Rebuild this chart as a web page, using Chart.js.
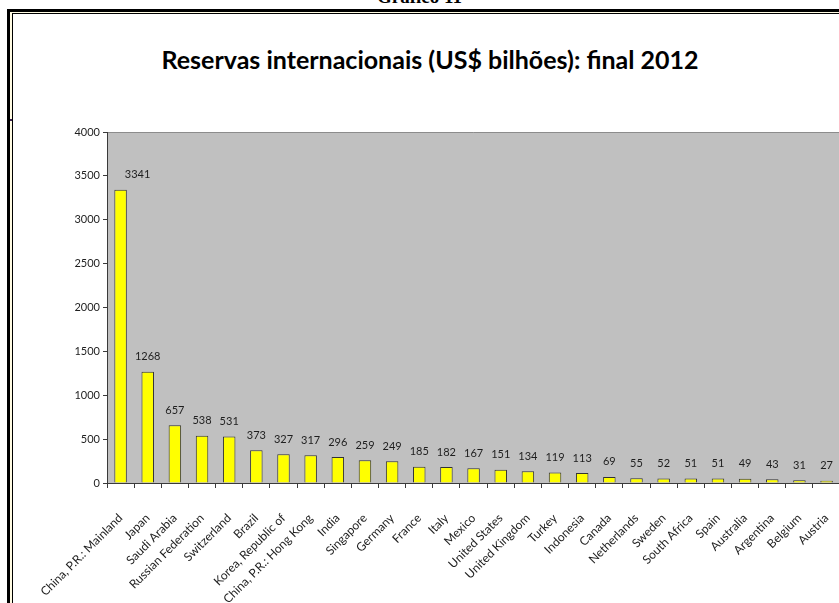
<!DOCTYPE html>
<html>
<head>
<meta charset="utf-8">
<script src="https://cdn.jsdelivr.net/npm/chart.js@4.4.0/dist/chart.umd.min.js"></script>
<style>
  html, body { margin: 0; padding: 0; width: 839px; height: 603px; overflow: hidden; background: #fff; }
  #caption { position: absolute; left: 0; width: 839px; top: -14px; text-align: center;
             font: bold 19px "Liberation Serif", serif; line-height: 22px; color: #000; }
  #frameOuter { position: absolute; left: 7px; top: 9px; width: 900px; height: 700px;
                border-left: 3px solid #000; border-top: 3px solid #000; background: #fffbe3; }
  #frameInner { position: absolute; left: 12px; top: 13px; width: 900px; height: 700px;
                border-left: 1px solid #000; border-top: 1px solid #000; background: #fff; }
  #mark { position: absolute; left: 10px; top: 119px; width: 2px; height: 2px; background: #3a2050; }
  #title { position: absolute; left: 130px; width: 600px; top: 39px; text-align: center;
           font: bold 25px Lato, sans-serif; line-height: 40px; color: #000; white-space: nowrap; }
  #wrap { position: absolute; left: 0; top: 0; width: 860px; height: 603px; }
  #chart { width: 860px; height: 603px; display: block; }
</style>
</head>
<body>
<div id="caption">Gráfico 11</div>
<div id="frameOuter"></div>
<div id="frameInner"></div>
<div id="mark"></div>
<div id="title">Reservas internacionais (US$ bilhões): final 2012</div>
<div id="wrap"><canvas id="chart" width="860" height="603"></canvas></div>
<script>
// Reservas internacionais, final de 2012 (US$ bilhões)
const countries = [
  "China, P.R.: Mainland", "Japan", "Saudi Arabia", "Russian Federation", "Switzerland",
  "Brazil", "Korea, Republic of", "China, P.R.: Hong Kong", "India", "Singapore",
  "Germany", "France", "Italy", "Mexico", "United States", "United Kingdom", "Turkey",
  "Indonesia", "Canada", "Netherlands", "Sweden", "South Africa", "Spain", "Australia",
  "Argentina", "Belgium", "Austria"
];
const reserves = [
  3341, 1268, 657, 538, 531, 373, 327, 317, 296, 259, 249, 185, 182, 167, 151, 134, 119,
  113, 69, 55, 52, 51, 51, 49, 43, 31, 27
];
const yTicks = [0, 500, 1000, 1500, 2000, 2500, 3000, 3500, 4000];

const LABEL_FONT = '11px Lato, sans-serif';
const AXIS_COLOR = '#3a3a3a';

// gray plot area with a light top edge
const plotBackground = {
  id: 'plotBackground',
  beforeDraw(chart) {
    const { ctx, chartArea: a } = chart;
    ctx.save();
    ctx.fillStyle = '#c0c0c0';
    ctx.fillRect(a.left, a.top, a.right - a.left, a.bottom - a.top);
    ctx.strokeStyle = '#8c8c8c';
    ctx.lineWidth = 1;
    ctx.beginPath();
    ctx.moveTo(a.left, a.top + 0.5);
    ctx.lineTo(a.right, a.top + 0.5);
    ctx.stroke();
    ctx.restore();
  }
};

// value printed above each bar
const valueLabels = {
  id: 'valueLabels',
  afterDatasetsDraw(chart) {
    const { ctx } = chart;
    const meta = chart.getDatasetMeta(0);
    ctx.save();
    ctx.font = LABEL_FONT;
    ctx.fillStyle = '#1e1e1e';
    ctx.textAlign = 'center';
    ctx.textBaseline = 'middle';
    meta.data.forEach((bar, i) => {
      const v = chart.data.datasets[0].data[i];
      const dx = i === 0 ? 17 : 0;   // the tallest bar's label sits to its right
      ctx.fillText(String(v), bar.x + dx, bar.y - 15);
    });
    ctx.restore();
  }
};

new Chart(document.getElementById('chart'), {
  type: 'bar',
  data: {
    labels: countries,
    datasets: [{
      data: reserves,
      backgroundColor: '#ffff00',
      borderColor: '#333333',
      borderWidth: 1,
      barPercentage: 0.46,
      categoryPercentage: 1.0
    }]
  },
  options: {
    responsive: false,
    animation: false,
    devicePixelRatio: 1,
    layout: { padding: { top: 132, right: 13, left: 0, bottom: 0 } },
    plugins: { legend: { display: false }, tooltip: { enabled: false }, title: { display: false } },
    scales: {
      x: {
        grid: { offset: true, drawOnChartArea: false, drawTicks: true, tickLength: 5, color: AXIS_COLOR },
        border: { color: AXIS_COLOR, width: 1 },
        ticks: {
          autoSkip: false, maxRotation: 45, minRotation: 45, padding: 23,
          color: '#1e1e1e', font: { family: 'Lato, sans-serif', size: 12 }
        },
        afterFit(scale) { scale.height = 120; }
      },
      y: {
        min: 0, max: 4000,
        afterBuildTicks(scale) { scale.ticks = yTicks.map(v => ({ value: v })); },
        grid: { drawOnChartArea: false, drawTicks: true, tickLength: 4, color: AXIS_COLOR },
        border: { color: AXIS_COLOR, width: 1 },
        ticks: {
          padding: 3, color: '#1e1e1e', font: { family: 'Lato, sans-serif', size: 11 },
          callback: v => String(v)
        },
        afterFit(scale) { scale.width = 107; }
      }
    }
  },
  plugins: [plotBackground, valueLabels]
});
</script>
</body>
</html>
